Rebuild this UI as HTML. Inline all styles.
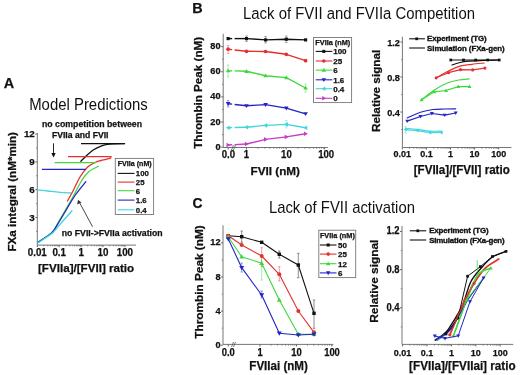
<!DOCTYPE html>
<html><head><meta charset="utf-8"><style>
html,body{margin:0;padding:0;background:#fff;width:520px;height:375px;overflow:hidden}
svg{display:block;filter:blur(0.3px)}
text{font-family:"Liberation Sans",sans-serif;fill:#111}
text[font-weight=bold]{stroke:#111;stroke-width:0.25px}
</style></head><body>
<svg width="520" height="375" viewBox="0 0 520 375">
<text x="3.80" y="87.80" font-size="15.23" font-weight="bold" textLength="10.40" lengthAdjust="spacingAndGlyphs">A</text>
<text x="29.20" y="109.60" font-size="16.13" textLength="118.50" lengthAdjust="spacingAndGlyphs">Model Predictions</text>
<text x="42.00" y="127.20" font-size="8.8" font-weight="bold" textLength="100.00" lengthAdjust="spacingAndGlyphs">no competition between</text>
<text x="51.90" y="137.70" font-size="8.7" font-weight="bold" textLength="56.60" lengthAdjust="spacingAndGlyphs">FVIIa and FVII</text>
<line x1="37.30" y1="133.00" x2="37.30" y2="245.10" stroke="#666" stroke-width="0.9"/>
<line x1="35.30" y1="217.49" x2="37.30" y2="217.49" stroke="#666" stroke-width="1"/>
<line x1="35.30" y1="189.68" x2="37.30" y2="189.68" stroke="#666" stroke-width="1"/>
<line x1="35.30" y1="161.87" x2="37.30" y2="161.87" stroke="#666" stroke-width="1"/>
<line x1="35.30" y1="134.06" x2="37.30" y2="134.06" stroke="#666" stroke-width="1"/>
<line x1="36.10" y1="231.39" x2="37.30" y2="231.39" stroke="#666" stroke-width="0.8"/>
<line x1="36.10" y1="203.58" x2="37.30" y2="203.58" stroke="#666" stroke-width="0.8"/>
<line x1="36.10" y1="175.77" x2="37.30" y2="175.77" stroke="#666" stroke-width="0.8"/>
<line x1="36.10" y1="147.96" x2="37.30" y2="147.96" stroke="#666" stroke-width="0.8"/>
<line x1="37.30" y1="245.10" x2="136.00" y2="245.10" stroke="#666" stroke-width="0.9"/>
<line x1="37.30" y1="245.10" x2="37.30" y2="247.10" stroke="#666" stroke-width="1"/>
<line x1="59.20" y1="245.10" x2="59.20" y2="247.10" stroke="#666" stroke-width="1"/>
<line x1="81.10" y1="245.10" x2="81.10" y2="247.10" stroke="#666" stroke-width="1"/>
<line x1="103.00" y1="245.10" x2="103.00" y2="247.10" stroke="#666" stroke-width="1"/>
<line x1="124.90" y1="245.10" x2="124.90" y2="247.10" stroke="#666" stroke-width="1"/>
<line x1="43.89" y1="245.10" x2="43.89" y2="246.30" stroke="#666" stroke-width="0.8"/>
<line x1="47.75" y1="245.10" x2="47.75" y2="246.30" stroke="#666" stroke-width="0.8"/>
<line x1="50.49" y1="245.10" x2="50.49" y2="246.30" stroke="#666" stroke-width="0.8"/>
<line x1="52.61" y1="245.10" x2="52.61" y2="246.30" stroke="#666" stroke-width="0.8"/>
<line x1="54.34" y1="245.10" x2="54.34" y2="246.30" stroke="#666" stroke-width="0.8"/>
<line x1="55.81" y1="245.10" x2="55.81" y2="246.30" stroke="#666" stroke-width="0.8"/>
<line x1="57.08" y1="245.10" x2="57.08" y2="246.30" stroke="#666" stroke-width="0.8"/>
<line x1="58.20" y1="245.10" x2="58.20" y2="246.30" stroke="#666" stroke-width="0.8"/>
<line x1="65.79" y1="245.10" x2="65.79" y2="246.30" stroke="#666" stroke-width="0.8"/>
<line x1="69.65" y1="245.10" x2="69.65" y2="246.30" stroke="#666" stroke-width="0.8"/>
<line x1="72.39" y1="245.10" x2="72.39" y2="246.30" stroke="#666" stroke-width="0.8"/>
<line x1="74.51" y1="245.10" x2="74.51" y2="246.30" stroke="#666" stroke-width="0.8"/>
<line x1="76.24" y1="245.10" x2="76.24" y2="246.30" stroke="#666" stroke-width="0.8"/>
<line x1="77.71" y1="245.10" x2="77.71" y2="246.30" stroke="#666" stroke-width="0.8"/>
<line x1="78.98" y1="245.10" x2="78.98" y2="246.30" stroke="#666" stroke-width="0.8"/>
<line x1="80.10" y1="245.10" x2="80.10" y2="246.30" stroke="#666" stroke-width="0.8"/>
<line x1="87.69" y1="245.10" x2="87.69" y2="246.30" stroke="#666" stroke-width="0.8"/>
<line x1="91.55" y1="245.10" x2="91.55" y2="246.30" stroke="#666" stroke-width="0.8"/>
<line x1="94.29" y1="245.10" x2="94.29" y2="246.30" stroke="#666" stroke-width="0.8"/>
<line x1="96.41" y1="245.10" x2="96.41" y2="246.30" stroke="#666" stroke-width="0.8"/>
<line x1="98.14" y1="245.10" x2="98.14" y2="246.30" stroke="#666" stroke-width="0.8"/>
<line x1="99.61" y1="245.10" x2="99.61" y2="246.30" stroke="#666" stroke-width="0.8"/>
<line x1="100.88" y1="245.10" x2="100.88" y2="246.30" stroke="#666" stroke-width="0.8"/>
<line x1="102.00" y1="245.10" x2="102.00" y2="246.30" stroke="#666" stroke-width="0.8"/>
<line x1="109.59" y1="245.10" x2="109.59" y2="246.30" stroke="#666" stroke-width="0.8"/>
<line x1="113.45" y1="245.10" x2="113.45" y2="246.30" stroke="#666" stroke-width="0.8"/>
<line x1="116.19" y1="245.10" x2="116.19" y2="246.30" stroke="#666" stroke-width="0.8"/>
<line x1="118.31" y1="245.10" x2="118.31" y2="246.30" stroke="#666" stroke-width="0.8"/>
<line x1="120.04" y1="245.10" x2="120.04" y2="246.30" stroke="#666" stroke-width="0.8"/>
<line x1="121.51" y1="245.10" x2="121.51" y2="246.30" stroke="#666" stroke-width="0.8"/>
<line x1="122.78" y1="245.10" x2="122.78" y2="246.30" stroke="#666" stroke-width="0.8"/>
<line x1="123.90" y1="245.10" x2="123.90" y2="246.30" stroke="#666" stroke-width="0.8"/>
<text x="34.80" y="137.16" font-size="9.8" font-weight="bold" text-anchor="end">12</text>
<text x="34.80" y="164.97" font-size="9.8" font-weight="bold" text-anchor="end">9</text>
<text x="34.80" y="192.78" font-size="9.8" font-weight="bold" text-anchor="end">6</text>
<text x="34.80" y="220.59" font-size="9.8" font-weight="bold" text-anchor="end">3</text>
<text x="37.30" y="256.00" font-size="10.39" font-weight="bold" textLength="19.07" lengthAdjust="spacingAndGlyphs" text-anchor="middle">0.01</text>
<text x="59.20" y="256.00" font-size="10.39" font-weight="bold" textLength="13.62" lengthAdjust="spacingAndGlyphs" text-anchor="middle">0.1</text>
<text x="81.10" y="256.00" font-size="10.39" font-weight="bold" textLength="5.45" lengthAdjust="spacingAndGlyphs" text-anchor="middle">1</text>
<text x="103.00" y="256.00" font-size="10.39" font-weight="bold" textLength="10.90" lengthAdjust="spacingAndGlyphs" text-anchor="middle">10</text>
<text x="124.90" y="256.00" font-size="10.39" font-weight="bold" textLength="16.35" lengthAdjust="spacingAndGlyphs" text-anchor="middle">100</text>
<text x="38.00" y="272.30" font-size="11.6" font-weight="bold" textLength="96.20" lengthAdjust="spacingAndGlyphs">[FVIIa]/[FVII] ratio</text>
<text x="15.80" y="191.80" font-size="11.6" font-weight="bold" textLength="119.50" lengthAdjust="spacingAndGlyphs" text-anchor="middle" transform="rotate(-90 15.80 191.80)">FXa integral (nM*min)</text>
<polyline points="81.00,143.70 124.20,143.70" fill="none" stroke="#111" stroke-width="1.3" stroke-linejoin="round"/>
<path d="M80.90,161.20 C81.90,160.20 84.78,157.10 86.90,155.20 C89.02,153.30 91.35,151.27 93.60,149.80 C95.85,148.33 98.15,147.30 100.40,146.40 C102.65,145.50 104.67,144.83 107.10,144.40 C109.53,143.97 112.08,143.92 115.00,143.80 C117.92,143.68 123.00,143.72 124.60,143.70" fill="none" stroke="#111" stroke-width="1.3" stroke-linecap="round"/>
<polyline points="68.00,156.70 111.70,156.70" fill="none" stroke="#e53030" stroke-width="1.3" stroke-linejoin="round"/>
<path d="M67.50,201.00 C68.58,199.00 71.92,193.00 74.00,189.00 C76.08,185.00 77.72,180.67 80.00,177.00 C82.28,173.33 85.20,169.42 87.70,167.00 C90.20,164.58 92.78,163.58 95.00,162.50 C97.22,161.42 98.37,161.25 101.00,160.50 C103.63,159.75 109.17,158.42 110.80,158.00" fill="none" stroke="#e53030" stroke-width="1.3" stroke-linecap="round"/>
<polyline points="54.60,162.60 96.00,162.60" fill="none" stroke="#3fd83f" stroke-width="1.3" stroke-linejoin="round"/>
<path d="M37.70,242.50 C39.08,241.58 43.45,238.83 46.00,237.00 C48.55,235.17 50.83,234.17 53.00,231.50 C55.17,228.83 56.83,224.75 59.00,221.00 C61.17,217.25 63.50,213.33 66.00,209.00 C68.50,204.67 71.33,199.83 74.00,195.00 C76.67,190.17 79.50,183.92 82.00,180.00 C84.50,176.08 86.28,173.78 89.00,171.50 C91.72,169.22 96.75,167.17 98.30,166.30" fill="none" stroke="#3fd83f" stroke-width="1.3" stroke-linecap="round"/>
<polyline points="42.00,169.40 85.80,169.40" fill="none" stroke="#2424c8" stroke-width="1.3" stroke-linejoin="round"/>
<path d="M37.70,242.50 C39.08,241.58 43.45,238.83 46.00,237.00 C48.55,235.17 50.83,234.00 53.00,231.50 C55.17,229.00 56.90,225.42 59.00,222.00 C61.10,218.58 62.93,215.42 65.60,211.00 C68.27,206.58 71.63,200.38 75.00,195.50 C78.37,190.62 84.00,184.00 85.80,181.70" fill="none" stroke="#2424c8" stroke-width="1.3" stroke-linecap="round"/>
<path d="M37.50,189.80 C39.25,190.00 44.25,190.58 48.00,191.00 C51.75,191.42 56.27,191.97 60.00,192.30 C63.73,192.63 68.67,192.88 70.40,193.00" fill="none" stroke="#3fd6dc" stroke-width="1.3" stroke-linecap="round"/>
<path d="M37.70,243.00 C39.08,242.08 43.45,239.25 46.00,237.50 C48.55,235.75 50.33,235.08 53.00,232.50 C55.67,229.92 58.83,225.62 62.00,222.00 C65.17,218.38 70.33,212.67 72.00,210.80" fill="none" stroke="#3fd6dc" stroke-width="1.3" stroke-linecap="round"/>
<line x1="53.50" y1="143.30" x2="53.50" y2="155.00" stroke="#111" stroke-width="0.9"/>
<polygon points="51.3,153 55.7,153 53.5,157.5" fill="#111"/>
<line x1="92.50" y1="226.70" x2="79.50" y2="202.50" stroke="#333" stroke-width="0.9"/>
<polygon points="78,199.8 77.2,204.6 81.4,202.4" fill="#333"/>
<text x="61.70" y="236.00" font-size="8.7" font-weight="bold" textLength="101.00" lengthAdjust="spacingAndGlyphs">no FVII-&gt;FVIIa activation</text>
<rect x="115.3" y="158.4" width="38.3" height="56.1" fill="#fff" stroke="#777" stroke-width="0.9"/>
<text x="117.70" y="165.90" font-size="7.1" font-weight="bold" textLength="34.00" lengthAdjust="spacingAndGlyphs">FVIIa (nM)</text>
<line x1="117.70" y1="173.40" x2="134.50" y2="173.40" stroke="#111" stroke-width="1.1"/>
<text x="135.80" y="176.20" font-size="7.8" font-weight="bold">100</text>
<line x1="117.70" y1="182.10" x2="134.50" y2="182.10" stroke="#e53030" stroke-width="1.1"/>
<text x="135.80" y="184.90" font-size="7.8" font-weight="bold">25</text>
<line x1="117.70" y1="190.70" x2="134.50" y2="190.70" stroke="#3fd83f" stroke-width="1.1"/>
<text x="135.80" y="193.50" font-size="7.8" font-weight="bold">6</text>
<line x1="117.70" y1="200.10" x2="134.50" y2="200.10" stroke="#2424c8" stroke-width="1.1"/>
<text x="135.80" y="202.90" font-size="7.8" font-weight="bold">1.6</text>
<line x1="117.70" y1="209.80" x2="134.50" y2="209.80" stroke="#3fd6dc" stroke-width="1.1"/>
<text x="135.80" y="212.60" font-size="7.8" font-weight="bold">0.4</text>
<text x="192.20" y="12.80" font-size="14.4" font-weight="bold">B</text>
<text x="243.00" y="18.60" font-size="16.26" textLength="232.00" lengthAdjust="spacingAndGlyphs">Lack of FVII and FVIIa Competition</text>
<line x1="223.20" y1="33.80" x2="223.20" y2="147.50" stroke="#666" stroke-width="0.9"/>
<line x1="221.20" y1="147.20" x2="223.20" y2="147.20" stroke="#666" stroke-width="1"/>
<line x1="221.20" y1="122.05" x2="223.20" y2="122.05" stroke="#666" stroke-width="1"/>
<line x1="221.20" y1="96.90" x2="223.20" y2="96.90" stroke="#666" stroke-width="1"/>
<line x1="221.20" y1="71.75" x2="223.20" y2="71.75" stroke="#666" stroke-width="1"/>
<line x1="221.20" y1="46.60" x2="223.20" y2="46.60" stroke="#666" stroke-width="1"/>
<line x1="222.00" y1="134.62" x2="223.20" y2="134.62" stroke="#666" stroke-width="0.8"/>
<line x1="222.00" y1="109.47" x2="223.20" y2="109.47" stroke="#666" stroke-width="0.8"/>
<line x1="222.00" y1="84.32" x2="223.20" y2="84.32" stroke="#666" stroke-width="0.8"/>
<line x1="222.00" y1="59.17" x2="223.20" y2="59.17" stroke="#666" stroke-width="0.8"/>
<line x1="223.20" y1="147.50" x2="327.90" y2="147.50" stroke="#666" stroke-width="0.9"/>
<line x1="228.20" y1="147.50" x2="228.20" y2="149.50" stroke="#666" stroke-width="1"/>
<line x1="246.40" y1="147.50" x2="246.40" y2="149.50" stroke="#666" stroke-width="1"/>
<line x1="286.20" y1="147.50" x2="286.20" y2="149.50" stroke="#666" stroke-width="1"/>
<line x1="324.40" y1="147.50" x2="324.40" y2="149.50" stroke="#666" stroke-width="1"/>
<line x1="258.14" y1="147.50" x2="258.14" y2="148.70" stroke="#666" stroke-width="0.8"/>
<line x1="265.01" y1="147.50" x2="265.01" y2="148.70" stroke="#666" stroke-width="0.8"/>
<line x1="269.88" y1="147.50" x2="269.88" y2="148.70" stroke="#666" stroke-width="0.8"/>
<line x1="273.66" y1="147.50" x2="273.66" y2="148.70" stroke="#666" stroke-width="0.8"/>
<line x1="276.75" y1="147.50" x2="276.75" y2="148.70" stroke="#666" stroke-width="0.8"/>
<line x1="279.36" y1="147.50" x2="279.36" y2="148.70" stroke="#666" stroke-width="0.8"/>
<line x1="281.62" y1="147.50" x2="281.62" y2="148.70" stroke="#666" stroke-width="0.8"/>
<line x1="283.62" y1="147.50" x2="283.62" y2="148.70" stroke="#666" stroke-width="0.8"/>
<line x1="297.94" y1="147.50" x2="297.94" y2="148.70" stroke="#666" stroke-width="0.8"/>
<line x1="304.81" y1="147.50" x2="304.81" y2="148.70" stroke="#666" stroke-width="0.8"/>
<line x1="309.68" y1="147.50" x2="309.68" y2="148.70" stroke="#666" stroke-width="0.8"/>
<line x1="313.46" y1="147.50" x2="313.46" y2="148.70" stroke="#666" stroke-width="0.8"/>
<line x1="316.55" y1="147.50" x2="316.55" y2="148.70" stroke="#666" stroke-width="0.8"/>
<line x1="319.16" y1="147.50" x2="319.16" y2="148.70" stroke="#666" stroke-width="0.8"/>
<line x1="321.42" y1="147.50" x2="321.42" y2="148.70" stroke="#666" stroke-width="0.8"/>
<line x1="323.42" y1="147.50" x2="323.42" y2="148.70" stroke="#666" stroke-width="0.8"/>
<line x1="231.5" y1="150" x2="233.5" y2="145" stroke="#555" stroke-width="0.8"/><line x1="233.5" y1="150" x2="235.5" y2="145" stroke="#555" stroke-width="0.8"/>
<text x="220.60" y="149.70" font-size="9.66" font-weight="bold" textLength="5.12" lengthAdjust="spacingAndGlyphs" text-anchor="end">0</text>
<text x="220.60" y="124.55" font-size="9.66" font-weight="bold" textLength="10.23" lengthAdjust="spacingAndGlyphs" text-anchor="end">20</text>
<text x="220.60" y="99.40" font-size="9.66" font-weight="bold" textLength="10.23" lengthAdjust="spacingAndGlyphs" text-anchor="end">40</text>
<text x="220.60" y="74.25" font-size="9.66" font-weight="bold" textLength="10.23" lengthAdjust="spacingAndGlyphs" text-anchor="end">60</text>
<text x="220.60" y="49.10" font-size="9.66" font-weight="bold" textLength="10.23" lengthAdjust="spacingAndGlyphs" text-anchor="end">80</text>
<text x="228.30" y="157.80" font-size="10.56" font-weight="bold" textLength="13.35" lengthAdjust="spacingAndGlyphs" text-anchor="middle">0.0</text>
<text x="246.50" y="157.80" font-size="10.56" font-weight="bold" textLength="5.34" lengthAdjust="spacingAndGlyphs" text-anchor="middle">1</text>
<text x="286.40" y="157.80" font-size="10.56" font-weight="bold" textLength="10.68" lengthAdjust="spacingAndGlyphs" text-anchor="middle">10</text>
<text x="326.20" y="157.80" font-size="10.56" font-weight="bold" textLength="16.02" lengthAdjust="spacingAndGlyphs" text-anchor="middle">100</text>
<text x="250.50" y="174.60" font-size="11.6" font-weight="bold" textLength="49.50" lengthAdjust="spacingAndGlyphs">FVII (nM)</text>
<text x="202.10" y="92.85" font-size="11.6" font-weight="bold" textLength="111.90" lengthAdjust="spacingAndGlyphs" text-anchor="middle" transform="rotate(-90 202.10 92.85)">Thrombin Peak (nM)</text>
<g opacity="0.6">
<line x1="228.10" y1="65.00" x2="228.10" y2="77.00" stroke="#3fd83f" stroke-width="0.7"/>
<line x1="226.90" y1="65.00" x2="229.30" y2="65.00" stroke="#3fd83f" stroke-width="0.7"/>
<line x1="226.90" y1="77.00" x2="229.30" y2="77.00" stroke="#3fd83f" stroke-width="0.7"/>
</g>
<g opacity="0.6">
<line x1="228.10" y1="45.50" x2="228.10" y2="53.50" stroke="#e53030" stroke-width="0.7"/>
<line x1="226.90" y1="45.50" x2="229.30" y2="45.50" stroke="#e53030" stroke-width="0.7"/>
<line x1="226.90" y1="53.50" x2="229.30" y2="53.50" stroke="#e53030" stroke-width="0.7"/>
</g>
<g opacity="0.6">
<line x1="265.60" y1="36.50" x2="265.60" y2="43.00" stroke="#111" stroke-width="0.6"/>
<line x1="264.40" y1="36.50" x2="266.80" y2="36.50" stroke="#111" stroke-width="0.6"/>
<line x1="264.40" y1="43.00" x2="266.80" y2="43.00" stroke="#111" stroke-width="0.6"/>
</g>
<g opacity="0.6">
<line x1="286.30" y1="36.00" x2="286.30" y2="42.50" stroke="#111" stroke-width="0.6"/>
<line x1="285.10" y1="36.00" x2="287.50" y2="36.00" stroke="#111" stroke-width="0.6"/>
<line x1="285.10" y1="42.50" x2="287.50" y2="42.50" stroke="#111" stroke-width="0.6"/>
</g>
<g opacity="0.6">
<line x1="305.60" y1="84.00" x2="305.60" y2="92.00" stroke="#3fd83f" stroke-width="0.7"/>
<line x1="304.40" y1="84.00" x2="306.80" y2="84.00" stroke="#3fd83f" stroke-width="0.7"/>
<line x1="304.40" y1="92.00" x2="306.80" y2="92.00" stroke="#3fd83f" stroke-width="0.7"/>
</g>
<g opacity="0.6">
<line x1="286.30" y1="120.50" x2="286.30" y2="128.00" stroke="#3fd6dc" stroke-width="0.7"/>
<line x1="285.10" y1="120.50" x2="287.50" y2="120.50" stroke="#3fd6dc" stroke-width="0.7"/>
<line x1="285.10" y1="128.00" x2="287.50" y2="128.00" stroke="#3fd6dc" stroke-width="0.7"/>
</g>
<g opacity="0.6">
<line x1="228.10" y1="100.50" x2="228.10" y2="107.00" stroke="#2424c8" stroke-width="0.7"/>
<line x1="226.90" y1="100.50" x2="229.30" y2="100.50" stroke="#2424c8" stroke-width="0.7"/>
<line x1="226.90" y1="107.00" x2="229.30" y2="107.00" stroke="#2424c8" stroke-width="0.7"/>
</g>
<g opacity="0.6">
<line x1="246.50" y1="36.00" x2="246.50" y2="41.50" stroke="#111" stroke-width="0.6"/>
<line x1="245.30" y1="36.00" x2="247.70" y2="36.00" stroke="#111" stroke-width="0.6"/>
<line x1="245.30" y1="41.50" x2="247.70" y2="41.50" stroke="#111" stroke-width="0.6"/>
</g>
<polyline points="228.10,38.60 232.20,38.60" fill="none" stroke="#111" stroke-width="1.4" stroke-linejoin="round"/>
<polyline points="234.60,38.60 246.50,38.60" fill="none" stroke="#111" stroke-width="1.4" stroke-linejoin="round"/>
<polyline points="246.50,38.60 265.60,39.90 286.30,39.20 305.60,39.90" fill="none" stroke="#111" stroke-width="1.4" stroke-linejoin="round"/>
<rect x="226.53" y="37.03" width="3.15" height="3.15" fill="#111"/>
<rect x="244.93" y="37.03" width="3.15" height="3.15" fill="#111"/>
<rect x="264.03" y="38.33" width="3.15" height="3.15" fill="#111"/>
<rect x="284.73" y="37.63" width="3.15" height="3.15" fill="#111"/>
<rect x="304.03" y="38.33" width="3.15" height="3.15" fill="#111"/>
<polyline points="228.10,49.20 232.20,49.67" fill="none" stroke="#e53030" stroke-width="1.4" stroke-linejoin="round"/>
<polyline points="234.60,49.94 246.50,51.30" fill="none" stroke="#e53030" stroke-width="1.4" stroke-linejoin="round"/>
<polyline points="246.50,51.30 265.60,51.50 286.30,54.30 305.60,60.70" fill="none" stroke="#e53030" stroke-width="1.4" stroke-linejoin="round"/>
<circle cx="228.10" cy="49.20" r="1.85" fill="#e53030"/>
<circle cx="246.50" cy="51.30" r="1.85" fill="#e53030"/>
<circle cx="265.60" cy="51.50" r="1.85" fill="#e53030"/>
<circle cx="286.30" cy="54.30" r="1.85" fill="#e53030"/>
<circle cx="305.60" cy="60.70" r="1.85" fill="#e53030"/>
<polyline points="228.10,70.70 232.20,70.83" fill="none" stroke="#3fd83f" stroke-width="1.4" stroke-linejoin="round"/>
<polyline points="234.60,70.91 246.50,71.30" fill="none" stroke="#3fd83f" stroke-width="1.4" stroke-linejoin="round"/>
<polyline points="246.50,71.30 265.60,75.70 286.30,77.60 305.60,88.00" fill="none" stroke="#3fd83f" stroke-width="1.4" stroke-linejoin="round"/>
<polygon points="228.10,68.39 225.79,72.32 230.41,72.32" fill="#3fd83f"/>
<polygon points="246.50,68.99 244.19,72.92 248.81,72.92" fill="#3fd83f"/>
<polygon points="265.60,73.39 263.29,77.32 267.91,77.32" fill="#3fd83f"/>
<polygon points="286.30,75.29 283.99,79.22 288.61,79.22" fill="#3fd83f"/>
<polygon points="305.60,85.69 303.29,89.62 307.91,89.62" fill="#3fd83f"/>
<polyline points="228.10,103.70 232.20,104.17" fill="none" stroke="#2424c8" stroke-width="1.4" stroke-linejoin="round"/>
<polyline points="234.60,104.44 246.50,105.80" fill="none" stroke="#2424c8" stroke-width="1.4" stroke-linejoin="round"/>
<polyline points="246.50,105.80 265.60,104.60 286.30,108.10 305.60,113.80" fill="none" stroke="#2424c8" stroke-width="1.4" stroke-linejoin="round"/>
<polygon points="228.10,106.01 225.79,102.08 230.41,102.08" fill="#2424c8"/>
<polygon points="246.50,108.11 244.19,104.18 248.81,104.18" fill="#2424c8"/>
<polygon points="265.60,106.91 263.29,102.98 267.91,102.98" fill="#2424c8"/>
<polygon points="286.30,110.41 283.99,106.48 288.61,106.48" fill="#2424c8"/>
<polygon points="305.60,116.11 303.29,112.18 307.91,112.18" fill="#2424c8"/>
<polyline points="228.10,127.70 232.20,127.61" fill="none" stroke="#3fd6dc" stroke-width="1.4" stroke-linejoin="round"/>
<polyline points="234.60,127.56 246.50,127.30" fill="none" stroke="#3fd6dc" stroke-width="1.4" stroke-linejoin="round"/>
<polyline points="246.50,127.30 265.60,125.40 286.30,124.40 305.60,127.70" fill="none" stroke="#3fd6dc" stroke-width="1.4" stroke-linejoin="round"/>
<polygon points="225.79,127.70 229.72,125.39 229.72,130.01" fill="#3fd6dc"/>
<polygon points="244.19,127.30 248.12,124.99 248.12,129.61" fill="#3fd6dc"/>
<polygon points="263.29,125.40 267.22,123.09 267.22,127.71" fill="#3fd6dc"/>
<polygon points="283.99,124.40 287.92,122.09 287.92,126.71" fill="#3fd6dc"/>
<polygon points="303.29,127.70 307.22,125.39 307.22,130.01" fill="#3fd6dc"/>
<polyline points="228.10,145.00 232.20,144.78" fill="none" stroke="#c83cc8" stroke-width="1.4" stroke-linejoin="round"/>
<polyline points="234.60,144.65 246.50,144.00" fill="none" stroke="#c83cc8" stroke-width="1.4" stroke-linejoin="round"/>
<polyline points="246.50,144.00 265.60,139.40 286.30,136.90 305.60,133.70" fill="none" stroke="#c83cc8" stroke-width="1.4" stroke-linejoin="round"/>
<polygon points="230.41,145.00 226.48,142.69 226.48,147.31" fill="#c83cc8"/>
<polygon points="248.81,144.00 244.88,141.69 244.88,146.31" fill="#c83cc8"/>
<polygon points="267.91,139.40 263.98,137.09 263.98,141.71" fill="#c83cc8"/>
<polygon points="288.61,136.90 284.68,134.59 284.68,139.21" fill="#c83cc8"/>
<polygon points="307.91,133.70 303.98,131.39 303.98,136.01" fill="#c83cc8"/>
<rect x="313.5" y="37.5" width="38.1" height="65.1" fill="#fff" stroke="#777" stroke-width="0.9"/>
<text x="315.30" y="45.00" font-size="7.1" font-weight="bold" textLength="35.00" lengthAdjust="spacingAndGlyphs">FVIIa (nM)</text>
<line x1="315.70" y1="51.40" x2="332.30" y2="51.40" stroke="#111" stroke-width="1.1"/>
<rect x="322.27" y="49.87" width="3.06" height="3.06" fill="#111"/>
<text x="333.20" y="54.30" font-size="8.0" font-weight="bold">100</text>
<line x1="315.70" y1="61.00" x2="332.30" y2="61.00" stroke="#e53030" stroke-width="1.1"/>
<circle cx="323.80" cy="61.00" r="1.80" fill="#e53030"/>
<text x="333.20" y="63.90" font-size="8.0" font-weight="bold">25</text>
<line x1="315.70" y1="70.10" x2="332.30" y2="70.10" stroke="#3fd83f" stroke-width="1.1"/>
<polygon points="323.80,67.85 321.55,71.67 326.05,71.67" fill="#3fd83f"/>
<text x="333.20" y="73.00" font-size="8.0" font-weight="bold">6</text>
<line x1="315.70" y1="79.80" x2="332.30" y2="79.80" stroke="#2424c8" stroke-width="1.1"/>
<polygon points="323.80,82.05 321.55,78.22 326.05,78.22" fill="#2424c8"/>
<text x="333.20" y="82.70" font-size="8.0" font-weight="bold">1.6</text>
<line x1="315.70" y1="88.70" x2="332.30" y2="88.70" stroke="#3fd6dc" stroke-width="1.1"/>
<polygon points="321.55,88.70 325.38,86.45 325.38,90.95" fill="#3fd6dc"/>
<text x="333.20" y="91.60" font-size="8.0" font-weight="bold">0.4</text>
<line x1="315.70" y1="98.30" x2="332.30" y2="98.30" stroke="#c83cc8" stroke-width="1.1"/>
<polygon points="326.05,98.30 322.23,96.05 322.23,100.55" fill="#c83cc8"/>
<text x="333.20" y="101.20" font-size="8.0" font-weight="bold">0</text>
<line x1="402.40" y1="36.70" x2="402.40" y2="147.50" stroke="#666" stroke-width="0.9"/>
<line x1="400.40" y1="112.00" x2="402.40" y2="112.00" stroke="#666" stroke-width="1"/>
<line x1="400.40" y1="77.00" x2="402.40" y2="77.00" stroke="#666" stroke-width="1"/>
<line x1="400.40" y1="42.00" x2="402.40" y2="42.00" stroke="#666" stroke-width="1"/>
<line x1="401.20" y1="129.50" x2="402.40" y2="129.50" stroke="#666" stroke-width="0.8"/>
<line x1="401.20" y1="94.50" x2="402.40" y2="94.50" stroke="#666" stroke-width="0.8"/>
<line x1="401.20" y1="59.50" x2="402.40" y2="59.50" stroke="#666" stroke-width="0.8"/>
<line x1="402.40" y1="147.50" x2="511.40" y2="147.50" stroke="#666" stroke-width="0.9"/>
<line x1="402.30" y1="147.50" x2="402.30" y2="149.50" stroke="#666" stroke-width="1"/>
<line x1="426.40" y1="147.50" x2="426.40" y2="149.50" stroke="#666" stroke-width="1"/>
<line x1="450.50" y1="147.50" x2="450.50" y2="149.50" stroke="#666" stroke-width="1"/>
<line x1="474.60" y1="147.50" x2="474.60" y2="149.50" stroke="#666" stroke-width="1"/>
<line x1="498.70" y1="147.50" x2="498.70" y2="149.50" stroke="#666" stroke-width="1"/>
<line x1="409.55" y1="147.50" x2="409.55" y2="148.70" stroke="#666" stroke-width="0.8"/>
<line x1="413.80" y1="147.50" x2="413.80" y2="148.70" stroke="#666" stroke-width="0.8"/>
<line x1="416.81" y1="147.50" x2="416.81" y2="148.70" stroke="#666" stroke-width="0.8"/>
<line x1="419.15" y1="147.50" x2="419.15" y2="148.70" stroke="#666" stroke-width="0.8"/>
<line x1="421.05" y1="147.50" x2="421.05" y2="148.70" stroke="#666" stroke-width="0.8"/>
<line x1="422.67" y1="147.50" x2="422.67" y2="148.70" stroke="#666" stroke-width="0.8"/>
<line x1="424.06" y1="147.50" x2="424.06" y2="148.70" stroke="#666" stroke-width="0.8"/>
<line x1="425.30" y1="147.50" x2="425.30" y2="148.70" stroke="#666" stroke-width="0.8"/>
<line x1="433.65" y1="147.50" x2="433.65" y2="148.70" stroke="#666" stroke-width="0.8"/>
<line x1="437.90" y1="147.50" x2="437.90" y2="148.70" stroke="#666" stroke-width="0.8"/>
<line x1="440.91" y1="147.50" x2="440.91" y2="148.70" stroke="#666" stroke-width="0.8"/>
<line x1="443.25" y1="147.50" x2="443.25" y2="148.70" stroke="#666" stroke-width="0.8"/>
<line x1="445.15" y1="147.50" x2="445.15" y2="148.70" stroke="#666" stroke-width="0.8"/>
<line x1="446.77" y1="147.50" x2="446.77" y2="148.70" stroke="#666" stroke-width="0.8"/>
<line x1="448.16" y1="147.50" x2="448.16" y2="148.70" stroke="#666" stroke-width="0.8"/>
<line x1="449.40" y1="147.50" x2="449.40" y2="148.70" stroke="#666" stroke-width="0.8"/>
<line x1="457.75" y1="147.50" x2="457.75" y2="148.70" stroke="#666" stroke-width="0.8"/>
<line x1="462.00" y1="147.50" x2="462.00" y2="148.70" stroke="#666" stroke-width="0.8"/>
<line x1="465.01" y1="147.50" x2="465.01" y2="148.70" stroke="#666" stroke-width="0.8"/>
<line x1="467.35" y1="147.50" x2="467.35" y2="148.70" stroke="#666" stroke-width="0.8"/>
<line x1="469.25" y1="147.50" x2="469.25" y2="148.70" stroke="#666" stroke-width="0.8"/>
<line x1="470.87" y1="147.50" x2="470.87" y2="148.70" stroke="#666" stroke-width="0.8"/>
<line x1="472.26" y1="147.50" x2="472.26" y2="148.70" stroke="#666" stroke-width="0.8"/>
<line x1="473.50" y1="147.50" x2="473.50" y2="148.70" stroke="#666" stroke-width="0.8"/>
<line x1="481.85" y1="147.50" x2="481.85" y2="148.70" stroke="#666" stroke-width="0.8"/>
<line x1="486.10" y1="147.50" x2="486.10" y2="148.70" stroke="#666" stroke-width="0.8"/>
<line x1="489.11" y1="147.50" x2="489.11" y2="148.70" stroke="#666" stroke-width="0.8"/>
<line x1="491.45" y1="147.50" x2="491.45" y2="148.70" stroke="#666" stroke-width="0.8"/>
<line x1="493.35" y1="147.50" x2="493.35" y2="148.70" stroke="#666" stroke-width="0.8"/>
<line x1="494.97" y1="147.50" x2="494.97" y2="148.70" stroke="#666" stroke-width="0.8"/>
<line x1="496.36" y1="147.50" x2="496.36" y2="148.70" stroke="#666" stroke-width="0.8"/>
<line x1="497.60" y1="147.50" x2="497.60" y2="148.70" stroke="#666" stroke-width="0.8"/>
<text x="400.00" y="45.60" font-size="9.94" font-weight="bold" textLength="12.79" lengthAdjust="spacingAndGlyphs" text-anchor="end">1.2</text>
<text x="400.00" y="80.60" font-size="9.94" font-weight="bold" textLength="12.79" lengthAdjust="spacingAndGlyphs" text-anchor="end">0.8</text>
<text x="400.00" y="115.60" font-size="9.94" font-weight="bold" textLength="12.79" lengthAdjust="spacingAndGlyphs" text-anchor="end">0.4</text>
<text x="402.30" y="156.90" font-size="9.72" font-weight="bold" textLength="17.52" lengthAdjust="spacingAndGlyphs" text-anchor="middle">0.01</text>
<text x="426.40" y="156.90" font-size="9.72" font-weight="bold" textLength="12.51" lengthAdjust="spacingAndGlyphs" text-anchor="middle">0.1</text>
<text x="450.50" y="156.90" font-size="9.72" font-weight="bold" textLength="5.01" lengthAdjust="spacingAndGlyphs" text-anchor="middle">1</text>
<text x="474.60" y="156.90" font-size="9.72" font-weight="bold" textLength="10.01" lengthAdjust="spacingAndGlyphs" text-anchor="middle">10</text>
<text x="498.70" y="156.90" font-size="9.72" font-weight="bold" textLength="15.02" lengthAdjust="spacingAndGlyphs" text-anchor="middle">100</text>
<text x="413.70" y="173.70" font-size="12.53" font-weight="bold" textLength="96.10" lengthAdjust="spacingAndGlyphs">[FVIIa]/[FVII] ratio</text>
<text x="379.60" y="90.80" font-size="11.5" font-weight="bold" textLength="82.20" lengthAdjust="spacingAndGlyphs" text-anchor="middle" transform="rotate(-90 379.60 90.80)">Relative signal</text>
<line x1="409.20" y1="38.80" x2="424.90" y2="38.80" stroke="#111" stroke-width="1.1"/>
<rect x="415.34" y="37.44" width="2.72" height="2.72" fill="#111"/>
<text x="427.10" y="41.20" font-size="7.9" font-weight="bold" textLength="59.60" lengthAdjust="spacing" style="stroke:#111;stroke-width:0.35px">Experiment (TG)</text>
<line x1="409.20" y1="48.00" x2="424.90" y2="48.00" stroke="#111" stroke-width="1.1"/>
<text x="427.10" y="50.50" font-size="7.9" font-weight="bold" textLength="77.60" lengthAdjust="spacing" style="stroke:#111;stroke-width:0.35px">Simulation (FXa-gen)</text>
<path d="M452.00,65.00 C453.33,64.58 457.13,63.13 460.00,62.50 C462.87,61.87 465.20,61.57 469.20,61.20 C473.20,60.83 479.03,60.50 484.00,60.30 C488.97,60.10 496.50,60.05 499.00,60.00" fill="none" stroke="#111" stroke-width="1.2" stroke-linecap="round"/>
<path d="M436.20,77.80 C438.28,76.67 444.75,72.93 448.70,71.00 C452.65,69.07 456.02,67.32 459.90,66.20 C463.78,65.08 467.95,64.83 472.00,64.30 C476.05,63.77 482.17,63.22 484.20,63.00" fill="none" stroke="#e53030" stroke-width="1.2" stroke-linecap="round"/>
<path d="M421.60,99.80 C423.55,98.28 429.12,93.45 433.30,90.70 C437.48,87.95 442.47,85.08 446.70,83.30 C450.93,81.52 454.95,80.73 458.70,80.00 C462.45,79.27 467.45,79.08 469.20,78.90" fill="none" stroke="#3fd83f" stroke-width="1.2" stroke-linecap="round"/>
<path d="M407.20,118.00 C409.40,117.05 416.10,113.72 420.40,112.30 C424.70,110.88 428.90,110.05 433.00,109.50 C437.10,108.95 441.22,109.12 445.00,109.00 C448.78,108.88 453.92,108.83 455.70,108.80" fill="none" stroke="#2424c8" stroke-width="1.2" stroke-linecap="round"/>
<path d="M405.50,128.30 C407.42,128.47 412.98,128.83 417.00,129.30 C421.02,129.77 425.57,130.78 429.60,131.10 C433.63,131.42 439.27,131.18 441.20,131.20" fill="none" stroke="#3fd6dc" stroke-width="1.2" stroke-linecap="round"/>
<g opacity="0.6">
<line x1="405.50" y1="126.50" x2="405.50" y2="133.30" stroke="#3fd6dc" stroke-width="0.7"/>
<line x1="404.30" y1="126.50" x2="406.70" y2="126.50" stroke="#3fd6dc" stroke-width="0.7"/>
<line x1="404.30" y1="133.30" x2="406.70" y2="133.30" stroke="#3fd6dc" stroke-width="0.7"/>
</g>
<polyline points="450.80,60.00 463.50,60.00 475.70,60.00 487.70,60.00 499.20,60.00" fill="none" stroke="#111" stroke-width="1.2" stroke-linejoin="round"/>
<rect x="449.44" y="58.64" width="2.72" height="2.72" fill="#111"/>
<rect x="462.14" y="58.64" width="2.72" height="2.72" fill="#111"/>
<rect x="474.34" y="58.64" width="2.72" height="2.72" fill="#111"/>
<rect x="486.34" y="58.64" width="2.72" height="2.72" fill="#111"/>
<rect x="497.84" y="58.64" width="2.72" height="2.72" fill="#111"/>
<polyline points="436.20,77.80 448.50,72.70 460.50,69.70 472.70,69.90 484.90,68.10" fill="none" stroke="#e53030" stroke-width="1.2" stroke-linejoin="round"/>
<circle cx="436.20" cy="77.80" r="1.60" fill="#e53030"/>
<circle cx="448.50" cy="72.70" r="1.60" fill="#e53030"/>
<circle cx="460.50" cy="69.70" r="1.60" fill="#e53030"/>
<circle cx="472.70" cy="69.90" r="1.60" fill="#e53030"/>
<circle cx="484.90" cy="68.10" r="1.60" fill="#e53030"/>
<polyline points="421.60,99.80 434.20,91.80 446.00,90.50 458.30,86.60 469.50,86.60" fill="none" stroke="#3fd83f" stroke-width="1.2" stroke-linejoin="round"/>
<polygon points="421.60,97.80 419.60,101.20 423.60,101.20" fill="#3fd83f"/>
<polygon points="434.20,89.80 432.20,93.20 436.20,93.20" fill="#3fd83f"/>
<polygon points="446.00,88.50 444.00,91.90 448.00,91.90" fill="#3fd83f"/>
<polygon points="458.30,84.60 456.30,88.00 460.30,88.00" fill="#3fd83f"/>
<polygon points="469.50,84.60 467.50,88.00 471.50,88.00" fill="#3fd83f"/>
<polyline points="407.20,121.10 420.40,116.50 431.90,113.50 444.60,115.10 455.70,113.00" fill="none" stroke="#2424c8" stroke-width="1.2" stroke-linejoin="round"/>
<polygon points="407.20,123.10 405.20,119.70 409.20,119.70" fill="#2424c8"/>
<polygon points="420.40,118.50 418.40,115.10 422.40,115.10" fill="#2424c8"/>
<polygon points="431.90,115.50 429.90,112.10 433.90,112.10" fill="#2424c8"/>
<polygon points="444.60,117.10 442.60,113.70 446.60,113.70" fill="#2424c8"/>
<polygon points="455.70,115.00 453.70,111.60 457.70,111.60" fill="#2424c8"/>
<polyline points="405.50,129.60 417.30,130.60 429.80,132.60 441.30,132.40" fill="none" stroke="#3fd6dc" stroke-width="1.2" stroke-linejoin="round"/>
<polygon points="403.50,129.60 406.90,127.60 406.90,131.60" fill="#3fd6dc"/>
<polygon points="415.30,130.60 418.70,128.60 418.70,132.60" fill="#3fd6dc"/>
<polygon points="427.80,132.60 431.20,130.60 431.20,134.60" fill="#3fd6dc"/>
<polygon points="439.30,132.40 442.70,130.40 442.70,134.40" fill="#3fd6dc"/>
<text x="192.50" y="208.40" font-size="14.25" font-weight="bold" textLength="10.00" lengthAdjust="spacingAndGlyphs">C</text>
<text x="268.90" y="212.50" font-size="15.93" textLength="146.00" lengthAdjust="spacingAndGlyphs">Lack of FVII activation</text>
<line x1="223.00" y1="225.30" x2="223.00" y2="344.40" stroke="#666" stroke-width="0.9"/>
<line x1="221.00" y1="345.20" x2="223.00" y2="345.20" stroke="#666" stroke-width="1"/>
<line x1="221.00" y1="311.08" x2="223.00" y2="311.08" stroke="#666" stroke-width="1"/>
<line x1="221.00" y1="276.96" x2="223.00" y2="276.96" stroke="#666" stroke-width="1"/>
<line x1="221.00" y1="242.84" x2="223.00" y2="242.84" stroke="#666" stroke-width="1"/>
<line x1="221.80" y1="328.14" x2="223.00" y2="328.14" stroke="#666" stroke-width="0.8"/>
<line x1="221.80" y1="294.02" x2="223.00" y2="294.02" stroke="#666" stroke-width="0.8"/>
<line x1="221.80" y1="259.90" x2="223.00" y2="259.90" stroke="#666" stroke-width="0.8"/>
<line x1="223.00" y1="344.40" x2="333.30" y2="344.40" stroke="#666" stroke-width="0.9"/>
<line x1="228.30" y1="344.40" x2="228.30" y2="346.40" stroke="#666" stroke-width="1"/>
<line x1="260.00" y1="344.40" x2="260.00" y2="346.40" stroke="#666" stroke-width="1"/>
<line x1="296.50" y1="344.40" x2="296.50" y2="346.40" stroke="#666" stroke-width="1"/>
<line x1="332.00" y1="344.40" x2="332.00" y2="346.40" stroke="#666" stroke-width="1"/>
<line x1="270.99" y1="344.40" x2="270.99" y2="345.60" stroke="#666" stroke-width="0.8"/>
<line x1="277.41" y1="344.40" x2="277.41" y2="345.60" stroke="#666" stroke-width="0.8"/>
<line x1="281.98" y1="344.40" x2="281.98" y2="345.60" stroke="#666" stroke-width="0.8"/>
<line x1="285.51" y1="344.40" x2="285.51" y2="345.60" stroke="#666" stroke-width="0.8"/>
<line x1="288.40" y1="344.40" x2="288.40" y2="345.60" stroke="#666" stroke-width="0.8"/>
<line x1="290.85" y1="344.40" x2="290.85" y2="345.60" stroke="#666" stroke-width="0.8"/>
<line x1="292.96" y1="344.40" x2="292.96" y2="345.60" stroke="#666" stroke-width="0.8"/>
<line x1="294.83" y1="344.40" x2="294.83" y2="345.60" stroke="#666" stroke-width="0.8"/>
<line x1="307.49" y1="344.40" x2="307.49" y2="345.60" stroke="#666" stroke-width="0.8"/>
<line x1="313.91" y1="344.40" x2="313.91" y2="345.60" stroke="#666" stroke-width="0.8"/>
<line x1="318.48" y1="344.40" x2="318.48" y2="345.60" stroke="#666" stroke-width="0.8"/>
<line x1="322.01" y1="344.40" x2="322.01" y2="345.60" stroke="#666" stroke-width="0.8"/>
<line x1="324.90" y1="344.40" x2="324.90" y2="345.60" stroke="#666" stroke-width="0.8"/>
<line x1="327.35" y1="344.40" x2="327.35" y2="345.60" stroke="#666" stroke-width="0.8"/>
<line x1="329.46" y1="344.40" x2="329.46" y2="345.60" stroke="#666" stroke-width="0.8"/>
<line x1="331.33" y1="344.40" x2="331.33" y2="345.60" stroke="#666" stroke-width="0.8"/>
<line x1="231.5" y1="347" x2="233.5" y2="342" stroke="#555" stroke-width="0.8"/><line x1="233.5" y1="347" x2="235.5" y2="342" stroke="#555" stroke-width="0.8"/>
<text x="220.60" y="347.80" font-size="9.57" font-weight="bold" textLength="5.12" lengthAdjust="spacingAndGlyphs" text-anchor="end">0</text>
<text x="220.60" y="313.68" font-size="9.57" font-weight="bold" textLength="5.12" lengthAdjust="spacingAndGlyphs" text-anchor="end">4</text>
<text x="220.60" y="279.56" font-size="9.57" font-weight="bold" textLength="5.12" lengthAdjust="spacingAndGlyphs" text-anchor="end">8</text>
<text x="220.60" y="245.44" font-size="9.57" font-weight="bold" textLength="10.23" lengthAdjust="spacingAndGlyphs" text-anchor="end">12</text>
<text x="228.30" y="355.50" font-size="10.15" font-weight="bold" textLength="13.07" lengthAdjust="spacingAndGlyphs" text-anchor="middle">0.0</text>
<text x="260.00" y="355.50" font-size="10.15" font-weight="bold" textLength="5.23" lengthAdjust="spacingAndGlyphs" text-anchor="middle">1</text>
<text x="296.50" y="355.50" font-size="10.15" font-weight="bold" textLength="10.46" lengthAdjust="spacingAndGlyphs" text-anchor="middle">10</text>
<text x="332.00" y="355.50" font-size="10.15" font-weight="bold" textLength="15.68" lengthAdjust="spacingAndGlyphs" text-anchor="middle">100</text>
<text x="249.30" y="369.80" font-size="11.95" font-weight="bold" textLength="58.60" lengthAdjust="spacingAndGlyphs">FVIIai (nM)</text>
<text x="203.00" y="282.00" font-size="11.8" font-weight="bold" textLength="113.50" lengthAdjust="spacingAndGlyphs" text-anchor="middle" transform="rotate(-90 203.00 282.00)">Thrombin Peak (nM)</text>
<g opacity="0.6">
<line x1="241.70" y1="231.00" x2="241.70" y2="242.30" stroke="#111" stroke-width="0.8"/>
<line x1="240.50" y1="231.00" x2="242.90" y2="231.00" stroke="#111" stroke-width="0.8"/>
<line x1="240.50" y1="242.30" x2="242.90" y2="242.30" stroke="#111" stroke-width="0.8"/>
</g>
<g opacity="0.6">
<line x1="298.30" y1="253.30" x2="298.30" y2="277.70" stroke="#111" stroke-width="0.8"/>
<line x1="297.10" y1="253.30" x2="299.50" y2="253.30" stroke="#111" stroke-width="0.8"/>
<line x1="297.10" y1="277.70" x2="299.50" y2="277.70" stroke="#111" stroke-width="0.8"/>
</g>
<g opacity="0.6">
<line x1="314.00" y1="300.00" x2="314.00" y2="328.30" stroke="#111" stroke-width="0.8"/>
<line x1="312.80" y1="300.00" x2="315.20" y2="300.00" stroke="#111" stroke-width="0.8"/>
<line x1="312.80" y1="328.30" x2="315.20" y2="328.30" stroke="#111" stroke-width="0.8"/>
</g>
<g opacity="0.6">
<line x1="261.70" y1="247.70" x2="261.70" y2="266.70" stroke="#e53030" stroke-width="0.8"/>
<line x1="260.50" y1="247.70" x2="262.90" y2="247.70" stroke="#e53030" stroke-width="0.8"/>
<line x1="260.50" y1="266.70" x2="262.90" y2="266.70" stroke="#e53030" stroke-width="0.8"/>
</g>
<g opacity="0.6">
<line x1="279.30" y1="266.70" x2="279.30" y2="281.00" stroke="#e53030" stroke-width="0.8"/>
<line x1="278.10" y1="266.70" x2="280.50" y2="266.70" stroke="#e53030" stroke-width="0.8"/>
<line x1="278.10" y1="281.00" x2="280.50" y2="281.00" stroke="#e53030" stroke-width="0.8"/>
</g>
<g opacity="0.6">
<line x1="261.70" y1="256.70" x2="261.70" y2="280.00" stroke="#3fd83f" stroke-width="0.8"/>
<line x1="260.50" y1="256.70" x2="262.90" y2="256.70" stroke="#3fd83f" stroke-width="0.8"/>
<line x1="260.50" y1="280.00" x2="262.90" y2="280.00" stroke="#3fd83f" stroke-width="0.8"/>
</g>
<g opacity="0.6">
<line x1="279.30" y1="251.00" x2="279.30" y2="258.00" stroke="#111" stroke-width="0.8"/>
<line x1="278.10" y1="251.00" x2="280.50" y2="251.00" stroke="#111" stroke-width="0.8"/>
<line x1="278.10" y1="258.00" x2="280.50" y2="258.00" stroke="#111" stroke-width="0.8"/>
</g>
<g opacity="0.6">
<line x1="241.70" y1="263.00" x2="241.70" y2="272.00" stroke="#2424c8" stroke-width="0.8"/>
<line x1="240.50" y1="263.00" x2="242.90" y2="263.00" stroke="#2424c8" stroke-width="0.8"/>
<line x1="240.50" y1="272.00" x2="242.90" y2="272.00" stroke="#2424c8" stroke-width="0.8"/>
</g>
<g opacity="0.6">
<line x1="261.70" y1="291.00" x2="261.70" y2="298.00" stroke="#2424c8" stroke-width="0.8"/>
<line x1="260.50" y1="291.00" x2="262.90" y2="291.00" stroke="#2424c8" stroke-width="0.8"/>
<line x1="260.50" y1="298.00" x2="262.90" y2="298.00" stroke="#2424c8" stroke-width="0.8"/>
</g>
<polyline points="228.30,235.70 241.70,236.70 261.70,242.30 279.30,254.30 298.30,265.00 314.00,313.30" fill="none" stroke="#111" stroke-width="1.1" stroke-linejoin="round"/>
<rect x="226.60" y="234.00" width="3.40" height="3.40" fill="#111"/>
<rect x="240.00" y="235.00" width="3.40" height="3.40" fill="#111"/>
<rect x="260.00" y="240.60" width="3.40" height="3.40" fill="#111"/>
<rect x="277.60" y="252.60" width="3.40" height="3.40" fill="#111"/>
<rect x="296.60" y="263.30" width="3.40" height="3.40" fill="#111"/>
<rect x="312.30" y="311.60" width="3.40" height="3.40" fill="#111"/>
<polyline points="228.30,235.70 241.70,245.00 261.70,256.00 279.30,274.30 298.30,311.00 314.00,332.30" fill="none" stroke="#e53030" stroke-width="1.1" stroke-linejoin="round"/>
<circle cx="228.30" cy="235.70" r="2.00" fill="#e53030"/>
<circle cx="241.70" cy="245.00" r="2.00" fill="#e53030"/>
<circle cx="261.70" cy="256.00" r="2.00" fill="#e53030"/>
<circle cx="279.30" cy="274.30" r="2.00" fill="#e53030"/>
<circle cx="298.30" cy="311.00" r="2.00" fill="#e53030"/>
<circle cx="314.00" cy="332.30" r="2.00" fill="#e53030"/>
<polyline points="228.30,237.00 241.70,256.70 261.70,263.30 279.30,300.00 298.30,334.30 314.00,334.30" fill="none" stroke="#3fd83f" stroke-width="1.1" stroke-linejoin="round"/>
<polygon points="228.30,234.50 225.80,238.75 230.80,238.75" fill="#3fd83f"/>
<polygon points="241.70,254.20 239.20,258.45 244.20,258.45" fill="#3fd83f"/>
<polygon points="261.70,260.80 259.20,265.05 264.20,265.05" fill="#3fd83f"/>
<polygon points="279.30,297.50 276.80,301.75 281.80,301.75" fill="#3fd83f"/>
<polygon points="298.30,331.80 295.80,336.05 300.80,336.05" fill="#3fd83f"/>
<polygon points="314.00,331.80 311.50,336.05 316.50,336.05" fill="#3fd83f"/>
<polyline points="228.30,239.00 241.70,267.70 261.70,295.00 279.30,333.30 298.30,335.00 314.00,334.30" fill="none" stroke="#2424c8" stroke-width="1.1" stroke-linejoin="round"/>
<polygon points="228.30,241.50 225.80,237.25 230.80,237.25" fill="#2424c8"/>
<polygon points="241.70,270.20 239.20,265.95 244.20,265.95" fill="#2424c8"/>
<polygon points="261.70,297.50 259.20,293.25 264.20,293.25" fill="#2424c8"/>
<polygon points="279.30,335.80 276.80,331.55 281.80,331.55" fill="#2424c8"/>
<polygon points="298.30,337.50 295.80,333.25 300.80,333.25" fill="#2424c8"/>
<polygon points="314.00,336.80 311.50,332.55 316.50,332.55" fill="#2424c8"/>
<rect x="318.8" y="230.2" width="36.9" height="47.4" fill="#fff" stroke="#777" stroke-width="0.9"/>
<text x="319.90" y="238.10" font-size="7.1" font-weight="bold" textLength="35.00" lengthAdjust="spacingAndGlyphs">FVIIa (nM)</text>
<line x1="319.90" y1="245.00" x2="336.50" y2="245.00" stroke="#111" stroke-width="1.1"/>
<rect x="326.67" y="243.47" width="3.06" height="3.06" fill="#111"/>
<text x="338.00" y="247.90" font-size="8.0" font-weight="bold">50</text>
<line x1="319.90" y1="254.10" x2="336.50" y2="254.10" stroke="#e53030" stroke-width="1.1"/>
<circle cx="328.20" cy="254.10" r="1.80" fill="#e53030"/>
<text x="338.00" y="257.00" font-size="8.0" font-weight="bold">25</text>
<line x1="319.90" y1="263.70" x2="336.50" y2="263.70" stroke="#3fd83f" stroke-width="1.1"/>
<polygon points="328.20,261.45 325.95,265.27 330.45,265.27" fill="#3fd83f"/>
<text x="338.00" y="266.60" font-size="8.0" font-weight="bold">12</text>
<line x1="319.90" y1="272.90" x2="336.50" y2="272.90" stroke="#2424c8" stroke-width="1.1"/>
<polygon points="328.20,275.15 325.95,271.32 330.45,271.32" fill="#2424c8"/>
<text x="338.00" y="275.80" font-size="8.0" font-weight="bold">6</text>
<line x1="402.00" y1="226.00" x2="402.00" y2="344.40" stroke="#666" stroke-width="0.9"/>
<line x1="400.00" y1="307.80" x2="402.00" y2="307.80" stroke="#666" stroke-width="1"/>
<line x1="400.00" y1="269.60" x2="402.00" y2="269.60" stroke="#666" stroke-width="1"/>
<line x1="400.00" y1="231.40" x2="402.00" y2="231.40" stroke="#666" stroke-width="1"/>
<line x1="400.80" y1="326.90" x2="402.00" y2="326.90" stroke="#666" stroke-width="0.8"/>
<line x1="400.80" y1="288.70" x2="402.00" y2="288.70" stroke="#666" stroke-width="0.8"/>
<line x1="400.80" y1="250.50" x2="402.00" y2="250.50" stroke="#666" stroke-width="0.8"/>
<line x1="402.00" y1="344.40" x2="513.30" y2="344.40" stroke="#666" stroke-width="0.9"/>
<line x1="402.60" y1="344.40" x2="402.60" y2="346.40" stroke="#666" stroke-width="1"/>
<line x1="427.00" y1="344.40" x2="427.00" y2="346.40" stroke="#666" stroke-width="1"/>
<line x1="451.40" y1="344.40" x2="451.40" y2="346.40" stroke="#666" stroke-width="1"/>
<line x1="475.80" y1="344.40" x2="475.80" y2="346.40" stroke="#666" stroke-width="1"/>
<line x1="500.20" y1="344.40" x2="500.20" y2="346.40" stroke="#666" stroke-width="1"/>
<line x1="409.95" y1="344.40" x2="409.95" y2="345.60" stroke="#666" stroke-width="0.8"/>
<line x1="414.24" y1="344.40" x2="414.24" y2="345.60" stroke="#666" stroke-width="0.8"/>
<line x1="417.29" y1="344.40" x2="417.29" y2="345.60" stroke="#666" stroke-width="0.8"/>
<line x1="419.65" y1="344.40" x2="419.65" y2="345.60" stroke="#666" stroke-width="0.8"/>
<line x1="421.59" y1="344.40" x2="421.59" y2="345.60" stroke="#666" stroke-width="0.8"/>
<line x1="423.22" y1="344.40" x2="423.22" y2="345.60" stroke="#666" stroke-width="0.8"/>
<line x1="424.64" y1="344.40" x2="424.64" y2="345.60" stroke="#666" stroke-width="0.8"/>
<line x1="425.88" y1="344.40" x2="425.88" y2="345.60" stroke="#666" stroke-width="0.8"/>
<line x1="434.35" y1="344.40" x2="434.35" y2="345.60" stroke="#666" stroke-width="0.8"/>
<line x1="438.64" y1="344.40" x2="438.64" y2="345.60" stroke="#666" stroke-width="0.8"/>
<line x1="441.69" y1="344.40" x2="441.69" y2="345.60" stroke="#666" stroke-width="0.8"/>
<line x1="444.05" y1="344.40" x2="444.05" y2="345.60" stroke="#666" stroke-width="0.8"/>
<line x1="445.99" y1="344.40" x2="445.99" y2="345.60" stroke="#666" stroke-width="0.8"/>
<line x1="447.62" y1="344.40" x2="447.62" y2="345.60" stroke="#666" stroke-width="0.8"/>
<line x1="449.04" y1="344.40" x2="449.04" y2="345.60" stroke="#666" stroke-width="0.8"/>
<line x1="450.28" y1="344.40" x2="450.28" y2="345.60" stroke="#666" stroke-width="0.8"/>
<line x1="458.75" y1="344.40" x2="458.75" y2="345.60" stroke="#666" stroke-width="0.8"/>
<line x1="463.04" y1="344.40" x2="463.04" y2="345.60" stroke="#666" stroke-width="0.8"/>
<line x1="466.09" y1="344.40" x2="466.09" y2="345.60" stroke="#666" stroke-width="0.8"/>
<line x1="468.45" y1="344.40" x2="468.45" y2="345.60" stroke="#666" stroke-width="0.8"/>
<line x1="470.39" y1="344.40" x2="470.39" y2="345.60" stroke="#666" stroke-width="0.8"/>
<line x1="472.02" y1="344.40" x2="472.02" y2="345.60" stroke="#666" stroke-width="0.8"/>
<line x1="473.44" y1="344.40" x2="473.44" y2="345.60" stroke="#666" stroke-width="0.8"/>
<line x1="474.68" y1="344.40" x2="474.68" y2="345.60" stroke="#666" stroke-width="0.8"/>
<line x1="483.15" y1="344.40" x2="483.15" y2="345.60" stroke="#666" stroke-width="0.8"/>
<line x1="487.44" y1="344.40" x2="487.44" y2="345.60" stroke="#666" stroke-width="0.8"/>
<line x1="490.49" y1="344.40" x2="490.49" y2="345.60" stroke="#666" stroke-width="0.8"/>
<line x1="492.85" y1="344.40" x2="492.85" y2="345.60" stroke="#666" stroke-width="0.8"/>
<line x1="494.79" y1="344.40" x2="494.79" y2="345.60" stroke="#666" stroke-width="0.8"/>
<line x1="496.42" y1="344.40" x2="496.42" y2="345.60" stroke="#666" stroke-width="0.8"/>
<line x1="497.84" y1="344.40" x2="497.84" y2="345.60" stroke="#666" stroke-width="0.8"/>
<line x1="499.08" y1="344.40" x2="499.08" y2="345.60" stroke="#666" stroke-width="0.8"/>
<text x="399.60" y="234.30" font-size="10.15" font-weight="bold" textLength="13.07" lengthAdjust="spacingAndGlyphs" text-anchor="end">1.2</text>
<text x="399.60" y="272.50" font-size="10.15" font-weight="bold" textLength="13.07" lengthAdjust="spacingAndGlyphs" text-anchor="end">0.8</text>
<text x="399.60" y="310.70" font-size="10.15" font-weight="bold" textLength="13.07" lengthAdjust="spacingAndGlyphs" text-anchor="end">0.4</text>
<text x="402.60" y="355.50" font-size="9.72" font-weight="bold" textLength="17.52" lengthAdjust="spacingAndGlyphs" text-anchor="middle">0.01</text>
<text x="427.00" y="355.50" font-size="9.72" font-weight="bold" textLength="12.51" lengthAdjust="spacingAndGlyphs" text-anchor="middle">0.1</text>
<text x="451.40" y="355.50" font-size="9.72" font-weight="bold" textLength="5.01" lengthAdjust="spacingAndGlyphs" text-anchor="middle">1</text>
<text x="475.80" y="355.50" font-size="9.72" font-weight="bold" textLength="10.01" lengthAdjust="spacingAndGlyphs" text-anchor="middle">10</text>
<text x="500.20" y="355.50" font-size="9.72" font-weight="bold" textLength="15.02" lengthAdjust="spacingAndGlyphs" text-anchor="middle">100</text>
<text x="409.10" y="370.30" font-size="12.69" font-weight="bold" textLength="106.50" lengthAdjust="spacingAndGlyphs">[FVIIa]/[FVIIai] ratio</text>
<text x="378.30" y="281.20" font-size="11.5" font-weight="bold" textLength="83.00" lengthAdjust="spacingAndGlyphs" text-anchor="middle" transform="rotate(-90 378.30 281.20)">Relative signal</text>
<line x1="409.80" y1="230.80" x2="426.20" y2="230.80" stroke="#111" stroke-width="1.1"/>
<rect x="416.44" y="229.44" width="2.72" height="2.72" fill="#111"/>
<text x="429.20" y="233.20" font-size="7.9" font-weight="bold" textLength="59.40" lengthAdjust="spacing" style="stroke:#111;stroke-width:0.35px">Experiment (TG)</text>
<line x1="409.80" y1="240.00" x2="426.20" y2="240.00" stroke="#111" stroke-width="1.1"/>
<text x="429.20" y="242.50" font-size="7.9" font-weight="bold" textLength="75.40" lengthAdjust="spacing" style="stroke:#111;stroke-width:0.35px">Simulation (FXa-gen)</text>
<path d="M435.40,340.20 C437.10,338.90 443.00,334.90 445.60,332.40 C448.20,329.90 449.00,328.20 451.00,325.20 C453.00,322.20 455.50,318.20 457.60,314.40 C459.70,310.60 461.40,307.83 463.60,302.40 C465.80,296.97 468.00,287.37 470.80,281.80 C473.60,276.23 476.80,273.13 480.40,269.00 C484.00,264.87 488.13,259.93 492.40,257.00 C496.67,254.07 503.73,252.33 506.00,251.40" fill="none" stroke="#111" stroke-width="1.4" stroke-linecap="round"/>
<path d="M437.00,340.50 C438.67,339.25 444.33,335.58 447.00,333.00 C449.67,330.42 450.92,328.17 453.00,325.00 C455.08,321.83 457.42,317.83 459.50,314.00 C461.58,310.17 463.42,306.83 465.50,302.00 C467.58,297.17 470.92,287.83 472.00,285.00" fill="none" stroke="#2a8a70" stroke-width="1.1" stroke-linecap="round"/>
<path d="M449.80,334.80 C451.00,332.00 454.47,323.80 457.00,318.00 C459.53,312.20 462.17,305.77 465.00,300.00 C467.83,294.23 470.63,288.70 474.00,283.40 C477.37,278.10 481.07,272.25 485.20,268.20 C489.33,264.15 496.53,260.62 498.80,259.10" fill="none" stroke="#e53030" stroke-width="1.8" stroke-linecap="round"/>
<path d="M453.40,335.80 C454.50,332.83 457.80,323.97 460.00,318.00 C462.20,312.03 463.60,307.23 466.60,300.00 C469.60,292.77 473.97,279.90 478.00,274.60 C482.03,269.30 488.67,269.27 490.80,268.20" fill="none" stroke="#3fd83f" stroke-width="1.6" stroke-linecap="round"/>
<path d="M435.00,340.00 C437.50,338.33 445.50,335.00 450.00,330.00 C454.50,325.00 458.83,315.33 462.00,310.00 C465.17,304.67 465.27,303.50 469.00,298.00 C472.73,292.50 481.83,280.50 484.40,277.00" fill="none" stroke="#2424c8" stroke-width="1.2" stroke-linecap="round"/>
<polyline points="446.00,334.00 458.00,318.00 467.60,276.20 480.40,266.60 492.40,256.50 506.00,251.40" fill="none" stroke="#111" stroke-width="1.0" stroke-linejoin="round"/>
<rect x="444.64" y="332.64" width="2.72" height="2.72" fill="#111"/>
<rect x="456.64" y="316.64" width="2.72" height="2.72" fill="#111"/>
<rect x="466.24" y="274.84" width="2.72" height="2.72" fill="#111"/>
<rect x="479.04" y="265.24" width="2.72" height="2.72" fill="#111"/>
<rect x="491.04" y="255.14" width="2.72" height="2.72" fill="#111"/>
<rect x="504.64" y="250.04" width="2.72" height="2.72" fill="#111"/>
<polyline points="449.80,334.80 465.00,300.00 474.00,283.40" fill="none" stroke="#e53030" stroke-width="1.0" stroke-linejoin="round"/>
<circle cx="449.80" cy="334.80" r="1.60" fill="#e53030"/>
<circle cx="465.00" cy="300.00" r="1.60" fill="#e53030"/>
<circle cx="474.00" cy="283.40" r="1.60" fill="#e53030"/>
<polyline points="453.40,335.80 466.60,300.00 490.80,268.20" fill="none" stroke="#3fd83f" stroke-width="1.0" stroke-linejoin="round"/>
<polygon points="453.40,333.80 451.40,337.20 455.40,337.20" fill="#3fd83f"/>
<polygon points="466.60,298.00 464.60,301.40 468.60,301.40" fill="#3fd83f"/>
<polygon points="490.80,266.20 488.80,269.60 492.80,269.60" fill="#3fd83f"/>
<polyline points="434.80,336.00 445.00,338.40 458.20,335.80 470.00,301.60 483.60,277.80" fill="none" stroke="#2424c8" stroke-width="1.0" stroke-linejoin="round"/>
<polygon points="434.80,338.00 432.80,334.60 436.80,334.60" fill="#2424c8"/>
<polygon points="445.00,340.40 443.00,337.00 447.00,337.00" fill="#2424c8"/>
<polygon points="458.20,337.80 456.20,334.40 460.20,334.40" fill="#2424c8"/>
<polygon points="470.00,303.60 468.00,300.20 472.00,300.20" fill="#2424c8"/>
<polygon points="483.60,279.80 481.60,276.40 485.60,276.40" fill="#2424c8"/>
<line x1="477.20" y1="260.20" x2="477.20" y2="272.20" stroke="#3fd83f" stroke-width="0.8"/>
</svg>
</body></html>
